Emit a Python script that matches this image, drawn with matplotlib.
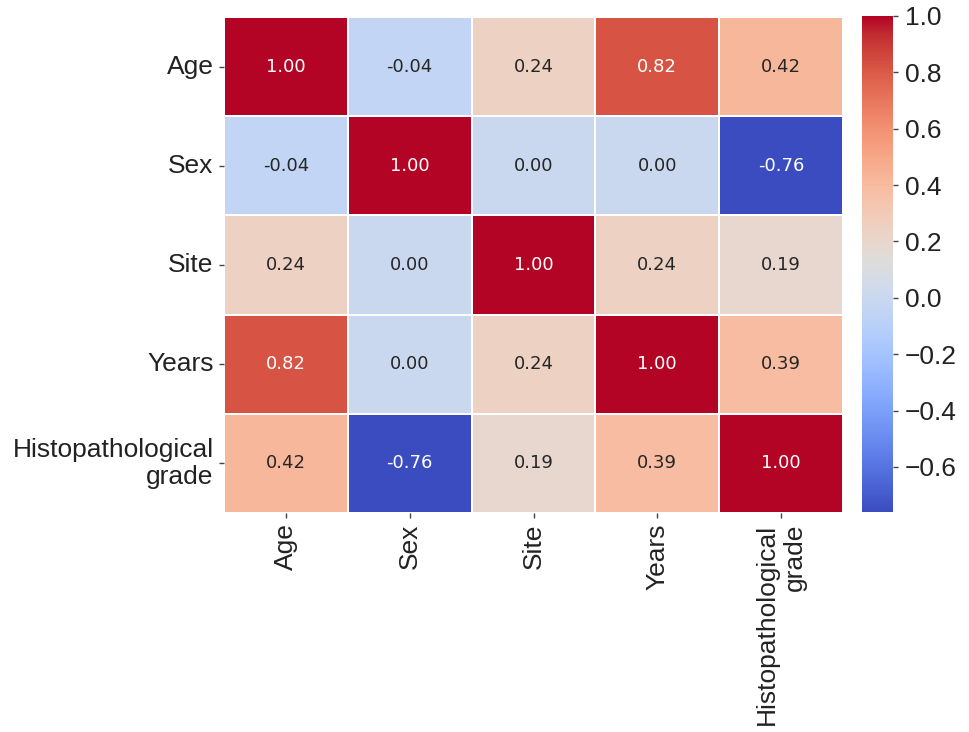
import numpy as np
import pandas as pd
import seaborn as sns
from matplotlib import pyplot as plt

labels = ['Age', 'Sex', 'Site', 'Years', 'Histopathological\ngrade']
age = [1.00, -0.04, 0.24, 0.82, 0.42]
sex = [-0.04, 1.00, 0.00, 0.00, -0.76]
site = [0.24, 0.00, 1.00, 0.24, 0.19]
years = [0.82, 0.00, 0.24, 1.00, 0.39]
grade = [0.42, -0.76, 0.19, 0.39, 1.00]

corr = pd.DataFrame([age, sex, site, years, grade], index=labels, columns=labels)

plt.rcParams['font.family'] = ['Liberation Sans', 'DejaVu Sans']

fig = plt.figure(figsize=(9.69, 7.32), dpi=100)
ax = fig.add_axes([224 / 969, 1 - 513 / 732, 619 / 969, 496 / 732])
cax = fig.add_axes([862 / 969, 1 - 512 / 732, 31 / 969, 496 / 732])

sns.heatmap(corr, ax=ax, cbar_ax=cax, cmap='coolwarm', annot=True, fmt='.2f',
            linewidths=1.2, linecolor='white',
            annot_kws={'fontsize': 13, 'family': 'DejaVu Sans'})

ax.tick_params(axis='both', labelsize=19, length=3.5, width=1, color='#444444',
               labelcolor='#222222', pad=4)
for t in ax.get_yticklabels():
    t.set_rotation(0)
    t.set_multialignment('right')
for t in ax.get_xticklabels():
    t.set_rotation(90)
    t.set_multialignment('right')

cax.tick_params(labelsize=19, length=3.5, width=1, color='#444444', labelcolor='#222222',
                pad=5)
cax.set_yticks([-0.6, -0.4, -0.2, 0.0, 0.2, 0.4, 0.6, 0.8, 1.0])

fig.savefig('out.png', dpi=100)
